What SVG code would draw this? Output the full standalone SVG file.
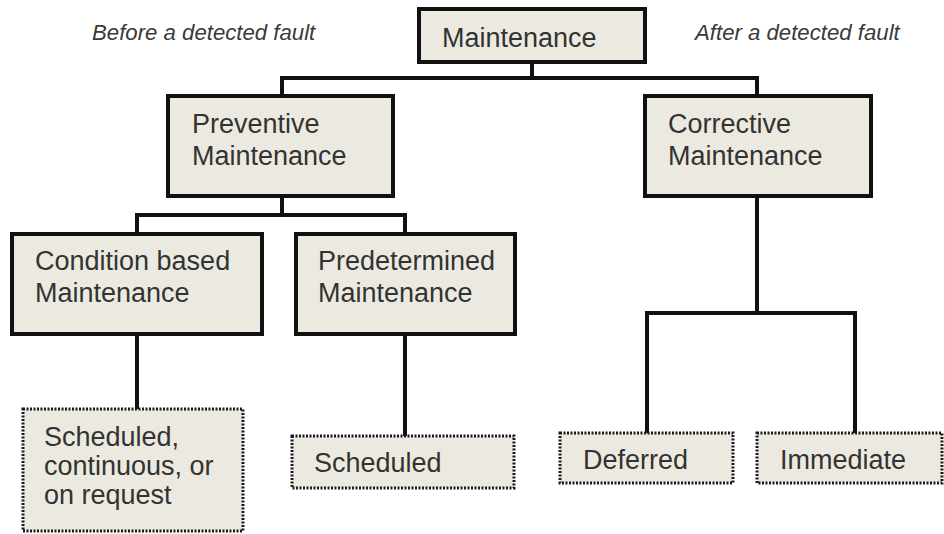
<svg xmlns="http://www.w3.org/2000/svg" width="944" height="534" viewBox="0 0 944 534">
<style>
.box{fill:#ECEAE0;stroke:#111;stroke-width:4}
.dbox{fill:#ECEAE0;stroke:#1a1a1a;stroke-width:3;stroke-dasharray:2 1.5}
.t{font-family:"Liberation Sans",Arial,sans-serif;font-size:27px;fill:#333}
.it{font-family:"Liberation Sans",Arial,sans-serif;font-size:22.2px;font-style:italic;fill:#3a3a3a}
.c{fill:none;stroke:#111;stroke-width:4}
</style>
<rect width="944" height="534" fill="#fff"/>
<text class="it" x="92" y="40">Before a detected fault</text>
<text class="it" x="695" y="40">After a detected fault</text>
<g id="connectors">
<path class="c" d="M532,62V78M282,96V78H757V96"/>
<path class="c" d="M282,196V215M137,234V215H405V234"/>
<path class="c" d="M137,334V409"/>
<path class="c" d="M405,334V436"/>
<path class="c" d="M757,196V313M647,433V313H855V433"/>
</g>
<g id="maintenance"><rect class="box" x="419" y="9" width="226" height="53"/><text class="t" x="442" y="47">Maintenance</text></g>
<g id="preventive"><rect class="box" x="168" y="96" width="225" height="100"/><text class="t" x="192" y="133">Preventive</text><text class="t" x="192" y="165">Maintenance</text></g>
<g id="corrective"><rect class="box" x="645" y="96" width="226" height="100"/><text class="t" x="668" y="133">Corrective</text><text class="t" x="668" y="165">Maintenance</text></g>
<g id="condition"><rect class="box" x="12" y="234" width="250" height="100"/><text class="t" x="35" y="270">Condition based</text><text class="t" x="35" y="302">Maintenance</text></g>
<g id="predetermined"><rect class="box" x="296" y="234" width="219" height="100"/><text class="t" x="318" y="270">Predetermined</text><text class="t" x="318" y="302">Maintenance</text></g>
<g id="sched-cont"><rect class="dbox" x="23" y="409" width="220" height="122"/><text class="t" x="44" y="446">Scheduled,</text><text class="t" x="44" y="475">continuous, or</text><text class="t" x="44" y="504">on request</text></g>
<g id="scheduled"><rect class="dbox" x="292" y="436" width="222" height="52"/><text class="t" x="314" y="472">Scheduled</text></g>
<g id="deferred"><rect class="dbox" x="560" y="433" width="173" height="50"/><text class="t" x="583" y="469">Deferred</text></g>
<g id="immediate"><rect class="dbox" x="757" y="433" width="185" height="50"/><text class="t" x="780" y="469">Immediate</text></g>
</svg>
